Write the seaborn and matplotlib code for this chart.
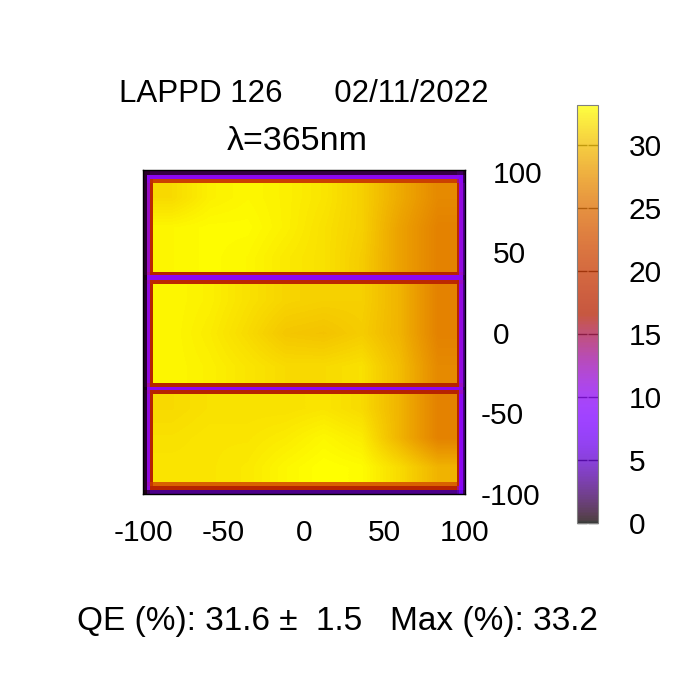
import numpy as np
import matplotlib
matplotlib.use("Agg")
import matplotlib.pyplot as plt
from matplotlib.colors import ListedColormap, Normalize
import seaborn as sns

# QE (%). Frame bands around / between the three strips
x_edges = [-100, -97.8, -95.5, -93.5, 95, 96.5, 98.5, 100]
y_edges = [101, 98, 95.5, 93, 38, 36, 32.5, 30, -31, -33.5, -35.5, -38,
           -92.5, -95, -97.5, -100]
nan = np.nan
frame_qe = [
    [0.8, 1.0, 1.5, 1.5, 2.0, 2.0, 1.0],
    [1.0, 10, 10, 10, 10, 9, 2],
    [1.0, 11, 19, 21, 14, 10, 2],
    [1.0, 12, 18, nan, 18, 11, 3],
    [1.0, 13, 17, 17, 16, 12, 3],
    [0.5, 10, 10, 10, 10, 10, 2],
    [1.0, 12, 18, 18, 17, 12, 3],
    [1.0, 11, 17, nan, 17, 11, 3],
    [1.0, 13, 17, 17, 17, 12, 3],
    [0.5, 10, 10, 10, 10, 10, 2],
    [1.0, 12, 17, 17, 17, 12, 3],
    [1.0, 11, 17, nan, 17, 10, 3],
    [1.0, 12, 20, 24, 18, 10, 3],
    [1.0, 11, 17, 17, 14, 9, 3],
    [0.5, 2, 3, 3, 4, 6, 2],
]

# strip interiors: rows top -> bottom, columns left -> right
strip_x = [-93.5, 95]
strip1_y = [38, 93]
strip1_qe = [
    [31.5, 32.5, 32.8, 32.5, 32.0, 31.0, 29.0, 27.0],
    [32.8, 33.0, 33.0, 32.5, 31.8, 31.0, 28.5, 26.5],
    [32.8, 33.0, 32.8, 32.2, 31.8, 30.8, 28.5, 26.5],
]
strip2_y = [-31, 30]
strip2_qe = [
    [32.8, 32.5, 31.8, 31.2, 31.0, 31.0, 29.5, 26.5],
    [32.8, 32.3, 31.5, 30.5, 30.3, 30.8, 29.5, 26.5],
    [32.8, 32.5, 32.0, 31.5, 31.5, 31.8, 30.0, 27.0],
]
strip3_y = [-92.5, -38]
strip3_qe = [
    [31.5, 31.8, 31.8, 31.8, 32.0, 31.5, 29.5, 26.5],
    [31.8, 32.0, 32.0, 32.3, 32.8, 32.3, 29.5, 26.5],
    [32.0, 32.0, 32.2, 32.8, 33.2, 33.0, 31.5, 29.5],
]

axis_ticks = [-100, -50, 0, 50, 100]
cb_ticks = [0, 5, 10, 15, 20, 25, 30]
qe_max = 33.2
title = "LAPPD 126      02/11/2022"
subtitle = "\u03bb=365nm"
summary = "QE (%): 31.6 \u00b1  1.5   Max (%): 33.2"

sns.set_theme(style="white")
plt.rcParams['font.family'] = ['Liberation Sans', 'DejaVu Sans']
plt.rcParams['text.color'] = 'black'
fs = 21.5

# gnuplot default pm3d palette (rgbformulae 7,5,15)
t = np.linspace(0, 1, 256)
cmap = ListedColormap(np.c_[np.sqrt(t), t ** 3, np.clip(np.sin(2 * np.pi * t), 0, 1)])
norm = Normalize(0, qe_max)

fig = plt.figure(figsize=(7, 7), dpi=100)
ax = fig.add_axes([143 / 700, 1 - 494 / 700, 322 / 700, 324 / 700])

mesh = ax.pcolormesh(x_edges, y_edges, np.ma.masked_invalid(np.array(frame_qe)),
                     cmap=cmap, norm=norm, shading='flat')
for ys, qe in [(strip1_y, strip1_qe), (strip2_y, strip2_qe), (strip3_y, strip3_qe)]:
    ax.imshow(np.array(qe), cmap=cmap, norm=norm, origin='upper', aspect='auto',
              extent=(strip_x[0], strip_x[1], ys[0], ys[1]),
              interpolation='bilinear', interpolation_stage='data', zorder=2)

ax.set_xlim(-100, 100)
ax.set_ylim(-100, 101)
ax.set_xticks(axis_ticks)
ax.set_yticks(axis_ticks)
ax.set_xticklabels([str(v) for v in axis_ticks])
ax.set_yticklabels([str(v) for v in axis_ticks])
ax.yaxis.tick_right()
ax.tick_params(axis='x', length=0, pad=18, labelsize=fs, colors='black')
ax.tick_params(axis='y', length=0, pad=20, labelsize=fs, colors='black')
for tk, v in zip(ax.yaxis.get_major_ticks(), axis_ticks):
    if v < 0:
        tk.set_pad(11)
for sp in ax.spines.values():
    sp.set_color('black')
    sp.set_linewidth(1)
ax.grid(False)

cax = fig.add_axes([577 / 700, 1 - 523 / 700, 21 / 700, 418 / 700])
cb = fig.colorbar(mesh, cax=cax, ticks=cb_ticks)
cb.solids.set_alpha(0.75)
cb.outline.set_edgecolor('#808080')
cb.outline.set_linewidth(0.8)
cax.tick_params(direction='in', length=7, width=1, color='#303030',
                left=True, right=True, labelleft=False, labelright=True,
                labelsize=fs, pad=22, labelcolor='black')

fig.text(304 / 700, 1 - 102 / 700, title, ha='center', va='baseline',
         fontsize=22.5, color='black')
fig.text(297 / 700, 1 - 150 / 700, subtitle, ha='center', va='baseline',
         fontsize=24.5, color='black')
fig.text(337 / 700, 1 - 630 / 700, summary, ha='center', va='baseline',
         fontsize=24, color='black')

fig.savefig('out.png', dpi=100, facecolor='white')
